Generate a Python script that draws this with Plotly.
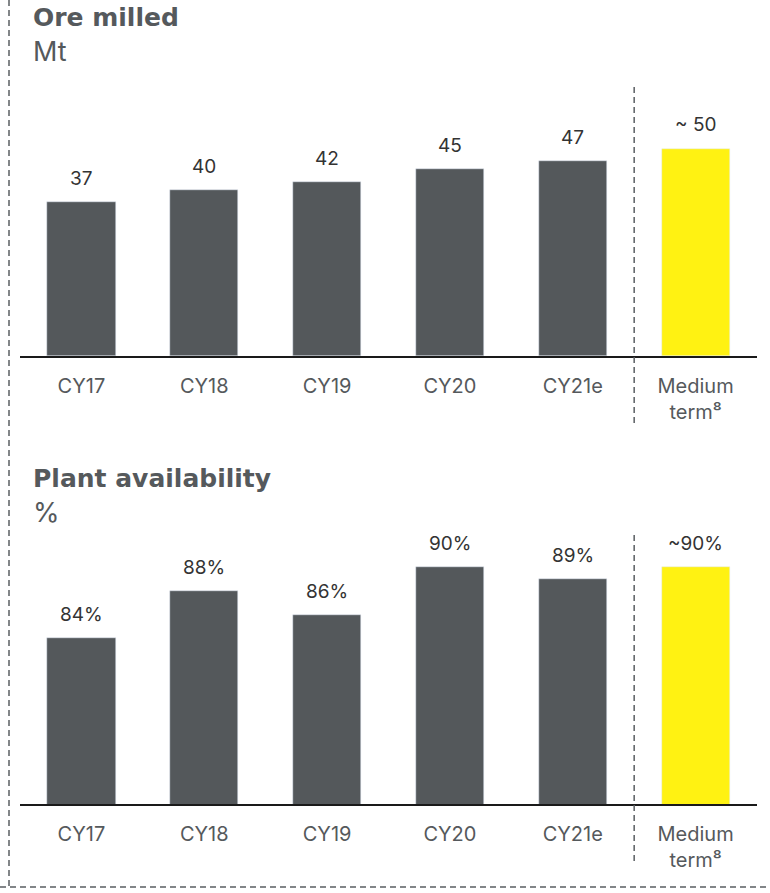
import plotly.graph_objects as go

# ---- data ----
categories = ["CY17", "CY18", "CY19", "CY20", "CY21e", "Medium<br>term⁸"]
ore_milled = [37, 40, 42, 45, 47, 50]
ore_labels = ["37", "40", "42", "45", "47", "~ 50"]
availability = [84, 88, 86, 90, 89, 90]
availability_labels = ["84%", "88%", "86%", "90%", "89%", "~90%"]

GREY = "#54585b"
YELLOW = "#fff212"
TEXT = "#55595c"
VALUE_TEXT = "#333333"
FONT = "Inter"
TITLE_FONT = "DejaVu Sans"

W, H = 770, 893


def py(px):
    """Convert a pixel row (from top) to paper coordinates."""
    return 1 - px / H


bar_colors = [GREY] * 5 + [YELLOW]

fig = go.Figure()
fig.add_trace(go.Bar(x=categories, y=ore_milled, marker_color=bar_colors,
                     width=0.555, xaxis="x", yaxis="y", hoverinfo="skip"))
fig.add_trace(go.Bar(x=categories, y=availability, marker_color=bar_colors,
                     width=0.555, xaxis="x2", yaxis="y2", hoverinfo="skip"))

xdom = [20 / W, 757 / W]
axis_common = dict(
    showgrid=False, zeroline=False, showline=True, linecolor="#1a1a1a",
    linewidth=2, ticks="", ticklabelstandoff=11,
    tickfont=dict(family=FONT, size=20, color=TEXT), fixedrange=True,
)

annotations = []
for xa, ya, vals, labels in (("x", "y", ore_milled, ore_labels),
                             ("x2", "y2", availability, availability_labels)):
    for c, v, t in zip(categories, vals, labels):
        annotations.append(dict(x=c, y=v, xref=xa, yref=ya, text=t,
                                showarrow=False, yanchor="bottom", yshift=10,
                                font=dict(family=FONT, size=19, color=VALUE_TEXT)))

# panel titles and units
titles = [
    ("<b>Ore milled</b>", 17, TITLE_FONT, 25),
    ("Mt", 52, FONT, 27),
    ("<b>Plant availability</b>", 478, TITLE_FONT, 25),
    ("%", 512, FONT, 27),
]
for txt, ypx, fam, size in titles:
    annotations.append(dict(x=31 / W, y=py(ypx), xref="paper", yref="paper", text=txt,
                            showarrow=False, xanchor="left", yanchor="middle",
                            font=dict(family=fam, size=size, color=TEXT)))

dash_style = dict(color="#5a5e62", width=1.5, dash="6px,4px")
shapes = [
    # separators before the medium-term outlook bar
    dict(type="line", xref="x", yref="paper", x0=4.5, x1=4.5, y0=py(87), y1=py(425), line=dash_style),
    dict(type="line", xref="x2", yref="paper", x0=4.5, x1=4.5, y0=py(535), y1=py(865), line=dash_style),
    # panel frame
    dict(type="line", xref="paper", yref="paper", x0=9 / W, x1=9 / W, y0=1, y1=py(887), line=dash_style),
    dict(type="line", xref="paper", yref="paper", x0=0, x1=1, y0=py(887), y1=py(887), line=dash_style),
]

fig.update_layout(
    width=W, height=H, margin=dict(l=0, r=0, t=0, b=0),
    paper_bgcolor="white", plot_bgcolor="white", showlegend=False,
    bargap=0,
    xaxis=dict(domain=xdom, anchor="y", **axis_common),
    yaxis=dict(domain=[py(356), py(107)], range=[0, 60], visible=False, fixedrange=True),
    xaxis2=dict(domain=xdom, anchor="y2", **axis_common),
    yaxis2=dict(domain=[py(804), py(508)], range=[70, 95], visible=False, fixedrange=True),
    annotations=annotations, shapes=shapes,
    font=dict(family=FONT),
)

fig.write_html("out.html")
